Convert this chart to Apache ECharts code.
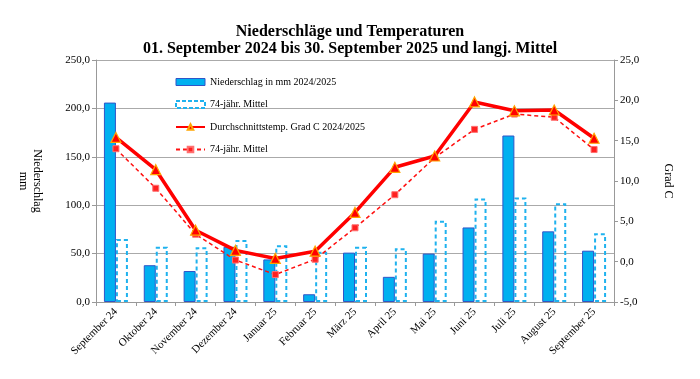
<!DOCTYPE html>
<html><head><meta charset="utf-8">
<script src="https://cdn.jsdelivr.net/npm/echarts@6/dist/echarts.min.js"></script>
<style>html,body{margin:0;padding:0;background:#fff}#c{width:700px;height:379px}</style>
</head><body><div id="c"></div>
<script>
const categories = ['September 24','Oktober 24','November 24','Dezember 24','Januar 25','Februar 25','März 25','April 25','Mai 25','Juni 25','Juli 25','August 25','September 25'];
const precip = [206, 38, 32, 57, 44, 8, 51, 26, 50, 77, 172, 73, 53];
const precipMean = [65, 57, 56.5, 64, 58.5, 52, 57, 55.5, 84, 107, 108, 102, 71];
const temp = [15.4, 11.4, 3.9, 1.4, 0.4, 1.3, 6.1, 11.7, 13.1, 19.8, 18.7, 18.8, 15.3];
const tempMean = [14.0, 9.1, 3.4, 0.2, -1.6, 0.3, 4.2, 8.3, 12.9, 16.4, 18.3, 17.9, 13.9];
const legendLabels = {
  p: 'Niederschlag in mm 2024/2025',
  pm: '74-jähr. Mittel',
  t: 'Durchschnittstemp. Grad C 2024/2025',
  tm: '74-jähr. Mittel'
};
const FONT = '"Liberation Serif", "Times New Roman", serif';
const fmt = v => v.toFixed(1).replace('.', ',');
const chart = echarts.init(document.getElementById('c'), null, {renderer: 'canvas'});
chart.setOption({
  animation: false,
  backgroundColor: '#fff',
  textStyle: {fontFamily: FONT},
  title: {
    text: 'Niederschläge und Temperaturen\n01. September 2024 bis 30. September 2025 und langj. Mittel',
    left: 'center', top: 18,
    textStyle: {fontFamily: FONT, fontSize: 16, fontWeight: 'bold', color: '#000', lineHeight: 17}
  },
  legend: {
    orient: 'vertical', left: 170, top: 72, itemGap: 12.5,
    itemWidth: 29, itemHeight: 7,
    textStyle: {fontFamily: FONT, fontSize: 10, color: '#000'},
    formatter: n => legendLabels[n],
    data: [
      {name: 'p', icon: 'rect', itemStyle: {color: '#00B0F0', borderColor: '#2F55C8', borderWidth: 1}},
      {name: 'pm', icon: 'rect', itemStyle: {color: '#fff', borderColor: '#1FB2EE', borderWidth: 2, borderType: [4, 2]}},
      't',
      'tm'
    ]
  },
  grid: {left: 96, right: 86, top: 60, bottom: 77},
  xAxis: {
    type: 'category', data: categories, boundaryGap: true,
    axisLine: {lineStyle: {color: '#999'}},
    axisTick: {show: true, alignWithLabel: false, lineStyle: {color: '#999'}, length: 4},
    axisLabel: {rotate: 45, fontFamily: FONT, fontSize: 11, color: '#000', interval: 0, margin: 8}
  },
  yAxis: [{
    type: 'value', min: 0, max: 250, interval: 50,
    name: 'Niederschlag\nmm', nameLocation: 'middle', nameRotate: -90, nameGap: 52,
    nameTextStyle: {fontFamily: FONT, fontSize: 12, color: '#000', lineHeight: 14},
    axisLine: {show: true, lineStyle: {color: '#999'}},
    axisTick: {show: true, lineStyle: {color: '#999'}, length: 4},
    axisLabel: {formatter: fmt, fontFamily: FONT, fontSize: 11, color: '#000', margin: 6},
    splitLine: {lineStyle: {color: '#aaa', width: 1}}
  }, {
    type: 'value', min: -5, max: 25, interval: 5, position: 'right',
    name: 'Grad C', nameLocation: 'middle', nameRotate: -90, nameGap: 48,
    nameTextStyle: {fontFamily: FONT, fontSize: 12, color: '#000'},
    axisLine: {show: true, lineStyle: {color: '#999'}},
    axisTick: {show: true, lineStyle: {color: '#999'}, length: 4},
    axisLabel: {formatter: fmt, fontFamily: FONT, fontSize: 11, color: '#000', margin: 6},
    splitLine: {show: false}
  }],
  series: [{
    name: 'p', type: 'bar', data: precip, yAxisIndex: 0,
    barWidth: 12, barGap: '0%',
    itemStyle: {color: '#00B0F0', borderColor: '#2F55C8', borderWidth: 1}
  }, {
    name: 'pm', type: 'bar', data: precipMean, yAxisIndex: 0,
    barWidth: 12, barGap: '0%',
    itemStyle: {color: 'rgba(255,255,255,0)', borderColor: '#1FB2EE', borderWidth: 2, borderType: [4, 3]}
  }, {
    name: 't', type: 'line', data: temp, yAxisIndex: 1,
    lineStyle: {color: '#FF0000', width: 3.5},
    symbol: 'triangle', symbolSize: 10,
    itemStyle: {color: '#FF0000', borderColor: '#FFA500', borderWidth: 1.2},
    z: 5
  }, {
    name: 'tm', type: 'line', data: tempMean, yAxisIndex: 1,
    lineStyle: {color: '#FF1010', width: 1.5, type: [4, 3]},
    symbol: 'rect', symbolSize: 6,
    itemStyle: {color: '#FF2020', borderColor: '#FF7070', borderWidth: 1},
    z: 4
  }]
});
</script></body></html>
